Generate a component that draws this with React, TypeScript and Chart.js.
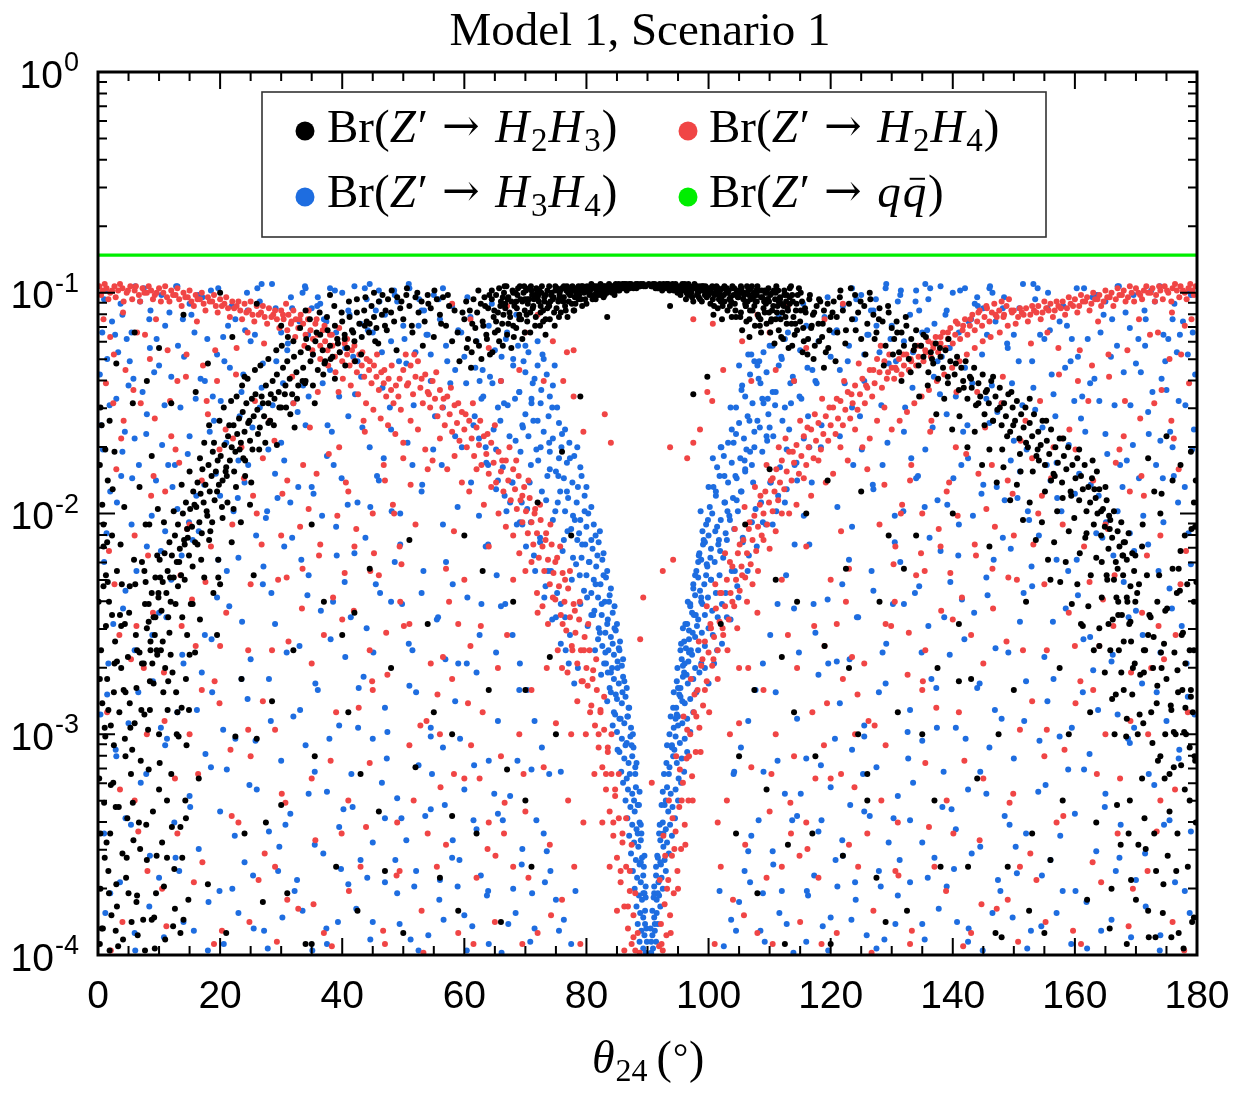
import { useEffect, useRef } from "react";
import { Chart, registerables } from "chart.js";
Chart.register(...registerables);

// Points are stored as flat pairs [t, d]:
//   t = theta_24 in tenths of a degree, d = -100 * log10(Br)  (depth below 1, in hundredths of a decade)

// ---- Br(Z' -> H2H3)  (black) ----
const H2H3_CAP = [600,112,603,104,606,121,609,108,612,127,615,103,618,116,621,109,624,124,627,105,630,113,633,102,636,119,639,107,642,128,645,103,648,111,650,118,
652,101,655,109,657,122,660,104,662,114,665,100,667,107,670,119,672,102,675,111,677,125,680,100,682,106,685,116,687,101,690,110,692,103,695,121,697,100,699,108,
701,99,703,113,706,103,708,118,710,99,712,107,715,101,717,111,719,99,722,104,724,115,726,100,729,108,731,102,733,119,736,99,738,105,740,112,743,100,745,103,747,109,749,99,
752,98,754,104,756,100,758,109,761,98,763,102,765,106,767,99,769,111,772,98,774,101,776,105,778,98,780,108,783,100,785,98,787,103,790,99,793,106,796,98,
801,97,804,100,807,98,810,103,813,97,816,99,819,101,822,97,825,98,828,102,831,97,835,99,838,97,842,100,845,98,849,97,
852,97,856,98,859,96,863,97,866,99,870,96,874,97,877,98,881,96,885,97,889,96,894,97,
906,97,909,96,913,98,917,97,920,96,924,99,928,97,931,96,935,98,939,97,943,99,947,97,
951,98,954,101,957,97,960,99,963,103,966,98,969,97,972,100,975,104,978,98,981,97,984,102,987,99,990,97,994,101,998,98,
1001,99,1003,105,1005,98,1008,110,1010,101,1012,98,1015,107,1017,103,1019,99,1022,112,1024,98,1026,104,1029,100,1031,108,1033,99,1036,102,1038,111,1040,98,1043,105,1046,100,
1051,100,1053,109,1055,117,1058,101,1060,105,1062,113,1065,99,1067,120,1069,103,1072,108,1074,100,1076,115,1079,104,1081,110,1083,99,1086,118,1088,102,1090,107,1093,100,1095,114,1097,103,1099,109,
1101,101,1103,112,1106,106,1108,123,1110,100,1112,109,1115,117,1117,102,1119,105,1122,121,1124,101,1126,111,1129,107,1131,125,1133,102,1136,114,1138,104,1141,119,1143,108,1146,101,
1150,113,1153,104,1156,122,1159,109,1162,128,1165,103,1168,116,1171,110,1174,124,1177,106,1180,114,1183,104,1186,120,1189,108,1192,127,1195,105,1198,117,1200,111];

const H2H3_CAP2 = [623,99,634,106,641,101,657,98,664,110,671,103,679,99,686,107,693,112,698,97,704,105,711,101,718,98,725,109,731,104,739,97,746,102,751,107,757,99,762,104,768,97,773,101,779,108,784,98,788,101,794,97,798,103,803,99,808,96,812,101,818,98,823,96,827,99,833,98,837,96,843,97,847,99,853,96,858,98,862,96,868,97,873,96,879,97,884,96,888,97,893,96,897,97,902,96,907,97,912,96,916,98,921,97,926,96,932,97,936,99,941,96,946,98,952,97,956,99,961,96,966,101,972,98,977,96,982,99,986,103,991,97,996,100,1002,98,1007,103,1013,97,1018,101,1023,106,1027,98,1034,103,1039,97,1044,108,1049,102,1054,98,1061,106,1066,101,1071,97,1077,104,1082,111,1087,99,1094,105,1098,98,1104,108,1109,103,1114,99,1121,109,1127,104,1133,98,1139,111,1144,105,1151,100,1158,107,1166,101,1173,109,1181,103,
592,131,604,125,611,134,619,122,628,130,637,121,646,127,655,117,663,124,672,114,681,120,690,112,699,118,708,109,716,115,725,106,733,112,589,118,597,109,613,114,631,115,649,108,667,105,685,104,703,103,721,101,739,106,755,111,
1208,131,1196,125,1189,134,1181,122,1172,130,1163,121,1154,127,1145,117,1137,124,1128,114,1119,120,1110,112,1101,118,1092,109,1084,115,1075,106,1067,112,1211,118,1203,109,1187,114,1169,115,1151,108,1133,105,1115,104,1097,103,1079,101,1061,106,1045,111,
645,99,652,113,659,106,666,97,674,109,680,115,688,98,695,104,702,110,709,97,714,103,723,99,729,113,736,107,742,101,748,115,755,103,760,98,766,108,771,104,776,99,782,105,787,97,791,103,796,100,800,105,806,99,811,97,815,103,820,100,826,97,830,101,836,98,841,97,846,101,851,99,855,97,861,98,865,96,871,98,876,97,882,98,887,97,
913,97,918,98,923,97,929,98,934,96,938,98,944,97,949,100,953,98,959,97,964,100,968,98,973,102,979,97,983,100,989,104,993,98,997,102,1004,100,1009,106,1014,99,1020,104,1025,101,1030,98,1035,106,1041,101,1047,99,1052,111,1057,103,1063,97,1068,108,1073,102,1078,99,1085,112,1091,104,1096,100,1102,113,1107,99,1113,106,1118,112,1124,99,1130,108,1137,101,1142,114,1148,98,1155,116,
663,102,669,97,677,104,684,100,691,97,699,103,706,98,713,106,720,102,727,97,733,101,741,104,749,97,756,101,763,97,770,100,777,97,781,102,789,99,792,97,799,98,805,101,809,98,817,97,824,101,829,97,834,100,840,98,848,96,854,99,
946,96,951,99,957,96,962,98,967,96,971,99,976,97,981,101,986,97,991,99,995,97,1000,101,1006,97,1011,100,1016,98,1021,102,1026,97,1032,100,1037,104,1042,98,1048,102,1053,97,1058,100,1064,104,1069,98,1075,101,1080,97,1086,102,1092,99,1099,104,1105,100,1111,97,1117,103,1123,106,1128,101,1135,97];

const H2H3_ARC_L = [80,252,83,241,86,258,88,236,91,247,94,229,96,262,99,238,101,221,104,244,106,231,109,218,112,236,114,226,117,213,119,240,
121,219,124,229,126,210,129,222,131,205,134,216,136,228,139,200,141,212,144,195,146,207,149,219,151,198,154,206,156,190,159,213,
161,197,163,186,166,204,168,191,171,180,173,195,176,187,178,199,181,178,183,190,186,183,188,172,191,194,193,181,196,176,198,187,
201,174,204,185,207,169,210,179,213,165,216,176,219,170,222,160,225,172,228,164,231,157,234,168,237,154,240,163,243,150,246,159,249,167,252,148,255,156,258,146,
261,153,265,161,268,147,272,156,275,142,279,150,282,158,286,140,289,148,293,137,296,145,300,152,303,134,307,142,310,131,314,139,318,146,321,129,325,136,328,142,332,127,336,134,340,140,344,125,348,131,
352,128,356,122,360,135,364,119,368,126,372,131,376,117,380,124,384,129,388,115,392,121,396,127,400,113,404,119,408,125,412,111,416,117,420,122,424,109,428,114,432,120,436,108,440,113,444,118,448,106,452,111,456,116,
460,104,465,110,470,115,475,103,480,109,485,113,490,102,495,107,500,112,505,101,510,106,515,118,520,102,525,109,530,104,535,113,540,101,545,107,550,120,555,103,560,110,565,102,570,115,575,106,580,122,
72,268,78,231,85,276,93,255,97,219,103,262,108,204,115,247,118,229,124,199,127,241,133,222,137,187,142,230,147,211,150,181,155,224,158,196,163,214,167,175,170,209,174,168,179,201,182,160,187,204,190,168,195,190,199,158,203,197,206,152,211,183,215,160,218,149,223,181,227,147,232,171,236,142,241,176,245,139,248,158,253,171,257,135,262,164,266,133,270,150,274,168,279,130,283,146,288,160,292,126,297,152,301,124,306,146,311,120,315,155,320,122,326,148,331,116,335,140,341,121,347,112,352,142,358,118,363,109,369,137,375,111,381,130,387,106,393,123,399,109,405,133,411,104,418,118,424,103,431,128,438,102,445,114,452,100,459,123,466,101,473,117,481,99,489,126,497,104,506,98,514,115,523,100,532,124,541,105,551,99,562,114,573,101,584,108,
52,286,64,262,77,241,89,268,102,229,117,254,131,233,142,214,155,241,169,221,184,208,197,229,209,181,222,198,238,175,251,186,264,171,279,159,293,169,308,152,322,161,339,141,355,150,371,132,388,139,404,121,421,131,437,115,454,122,471,108];

const H2H3_ARC_R = [1205,104,1210,111,1215,102,1220,108,1225,117,1230,105,1235,112,1240,101,1245,109,1250,121,1255,106,1260,114,1265,103,1270,110,1275,118,1280,107,1285,113,1290,124,1295,109,1300,116,
1304,121,1308,113,1312,127,1316,118,1320,124,1324,115,1328,130,1332,121,1336,126,1340,117,1344,133,1348,124,1352,129,1356,120,1360,136,1364,127,1368,132,1372,123,1376,139,1380,129,1384,134,1388,126,1392,141,1396,131,
1403,137,1407,129,1410,144,1414,134,1417,140,1421,131,1424,148,1428,138,1431,143,1435,134,1438,151,1442,141,1445,147,1449,137,1452,155,1456,144,1459,150,1463,140,1466,158,1470,147,1473,153,1477,143,1480,160,1484,150,1487,156,1491,146,1494,163,1498,152,
1502,158,1505,149,1509,166,1512,155,1516,161,1519,152,1523,170,1526,159,1530,165,1533,155,1537,174,1540,163,1544,169,1547,158,1551,178,1554,167,1558,173,1561,162,1565,182,1568,170,1572,177,1575,166,1579,186,1582,174,1586,180,1589,170,1593,190,1596,178,
1601,184,1604,175,1607,194,1610,183,1613,189,1616,178,1619,199,1622,188,1625,195,1628,184,1631,205,1634,193,1637,200,1640,189,1643,210,1646,198,1649,206,1652,194,1655,216,1658,203,1661,211,1664,199,1667,222,1670,208,1673,215,1676,204,1679,228,1682,213,1685,221,1688,209,1691,233,1694,218,1697,226,
1216,99,1224,123,1233,98,1241,117,1249,104,1257,128,1264,100,1272,121,1279,112,1287,133,1294,106,1302,128,1309,118,1316,140,1323,111,1331,136,1338,124,1345,147,1352,119,1359,142,1366,130,1373,155,1379,125,1386,148,1392,138,1399,162,1405,132,1411,156,1418,143,1424,170,1430,139,1436,163,1442,150,1448,178,1454,145,1460,171,1466,158,1472,186,1477,152,1483,179,1489,165,1494,194,1499,160,1505,187,1510,173,1515,203,1520,168,1526,195,1531,181,1536,212,1541,176,1546,204,1551,190,1556,221,1561,185,1566,213,1571,199,1576,231,1580,193,1585,222,1590,208,1595,241,1599,202,1604,232,1608,218,1613,251,1617,211,1622,242,1626,228,1631,262,1635,220,1640,252,1644,238,1649,272,1653,230,1658,262,1662,248,1667,282,1671,240,1676,272,1680,258,1685,293,1689,250,1694,282,1698,268,
1526,148,1539,171,1553,158,1567,183,1581,166,1594,192,1607,171,1619,209,1632,189,1644,222,1656,201,1668,238,1679,219,1691,249,1702,236,1713,262,1724,247,1735,278,1746,259,1757,287,1768,271,1779,299,1790,283,1797,312,1452,160,1466,138,1481,171,1496,145,1511,181,1393,121];

const H2H3_SCATTER = [5,262,12,301,20,345,8,388,15,275,25,322,30,368,3,395,18,240,35,290,40,354,10,331,22,382,28,258,45,310,50,372,7,286,14,349,33,396,38,270,48,338,55,385,60,295,2,320,17,362,26,305,42,280,58,348,65,391,70,312,75,268,80,357,13,228,23,210,36,246,52,233,62,255,72,222,85,289,90,335,95,372,100,300,105,349,110,393,115,276,120,318,125,361,130,290,135,342,140,384,145,305,150,264,6,160,16,185,27,172,43,197,57,150,68,188,78,205,88,174,98,198,4,370,11,356,19,398,31,378,46,365,63,376,77,398,92,383,108,369,123,387,138,356,1,240,9,215,21,296,29,333,44,250,54,318,67,340,83,316,97,264,113,330,128,281,143,330,148,375,
165,320,180,368,195,255,210,390,225,301,240,345,255,228,270,376,285,285,300,332,320,262,340,395,355,310,370,240,390,360,410,290,425,380,445,225,460,335,480,270,500,390,520,315,540,250,560,365,580,300,600,210,620,345,640,280,660,385,680,240,700,330,720,195,740,265,760,172,775,210,200,232,235,275,275,340,310,372,350,205,400,255,430,318,470,362,510,212,550,290,590,380,630,226,670,316,710,360,750,300,
60,118,100,125,140,110,180,132,220,120,260,105,300,115,340,108,380,101,80,140,160,145,200,100,240,138,120,150,30,132,
1020,250,1050,310,1080,372,1110,230,1140,290,1170,345,1200,395,1230,270,1260,330,1290,385,1320,225,1350,300,1380,360,1410,250,1440,320,1470,390,1500,280,1530,345,1560,230,1590,300,1620,375,1640,260,1060,205,1100,180,1130,350,1160,200,1190,260,1220,355,1250,190,1280,240,1310,290,1340,210,1370,330,1400,200,1430,275,1460,215,1490,360,1520,240,1550,390,1580,330,1610,250,1635,340,1075,280,1125,395,1175,310,1225,225,1275,365,1325,380,1375,270,1425,360,1475,300,1525,380,1575,270,1625,290,1045,345,1095,325,1145,240,1195,185,1245,300,1295,210,
1655,250,1665,300,1675,350,1685,395,1695,270,1705,232,1710,320,1715,262,1720,380,1725,290,1730,345,1735,240,1740,310,1745,368,1750,275,1755,335,1760,225,1765,300,1770,390,1775,255,1780,325,1785,360,1790,280,1795,240,1798,340,1660,370,1670,225,1680,280,1690,330,1700,375,1712,295,1722,246,1732,392,1742,270,1752,355,1762,315,1772,235,1782,300,1792,385,1704,350,1728,270,1748,300,1768,345,1788,262,1716,352,1738,228,1758,392,1776,280,1796,310,1686,240,
1720,175,1740,200,1760,185,1780,210,1795,195,1710,215,1750,165,1770,225,1790,172,1730,190,
998,138,975,146,790,147,937,106,834,111,
3,178,9,205,16,231,24,189,31,267,37,214,44,302,51,245,57,331,63,279,69,352,76,226,82,298,88,384,94,247,101,313,107,281,113,356,119,264,126,379,132,301,138,247,144,338,149,289,4,345,11,297,18,372,26,281,34,333,41,393,49,265,56,307,64,373,71,289,79,341,86,262,93,397,100,325,110,270,121,342,135,390,146,255,6,388,13,251,21,323,29,389,39,232,47,356,59,221,74,384,84,205,96,355,
1652,228,1661,284,1669,332,1677,246,1684,301,1692,366,1699,219,1707,273,1714,338,1721,392,1729,256,1736,312,1744,381,1751,243,1758,289,1766,362,1773,217,1781,268,1788,330,1795,383,1799,231,1657,388,1672,262,1688,345,1703,300,1718,228,1733,362,1747,320,1763,263,1778,397,1793,290,1680,213,1711,205,1742,191,1773,178,1797,206,
260,302,420,245,580,337,700,280,1120,265,1260,318,1410,276,1560,357,350,395,1480,392,
4,152,12,171,19,158,7,196,15,213,23,246,9,233,27,268,17,289,3,275,31,226,38,251,45,281,53,297,61,232,68,263,76,291,83,249,91,277,99,236,106,258,114,289,122,272,129,300,137,288,144,275,152,241,159,263,167,248,174,229,182,212,189,236,197,221,204,202,212,195,219,213,226,188,234,204,241,183,249,196,
1798,185,1791,207,1784,232,1777,254,1769,281,1762,299,1755,318,1748,244,1741,263,1734,286,1727,304,1720,255,1713,272,1706,291,1699,240,1692,258,1685,238,1678,219,1671,246,1664,230,1657,207,1650,188,1643,199,1636,181,1629,176,1795,262,1788,306,1781,288,1774,314,1767,236];

// ---- Br(Z' -> H2H4)  (red) ----
const H2H4_BAND_L = [2,97,8,99,14,98,20,100,27,97,33,99,40,98,47,100,53,97,60,99,67,101,73,98,80,100,87,99,93,101,100,98,107,100,113,102,120,99,127,101,133,103,140,100,147,102,153,104,160,101,167,103,173,105,180,102,187,104,193,106,200,103,207,105,213,107,220,104,227,106,233,108,240,105,247,108,253,110,260,106,267,109,273,111,280,107,287,110,293,112,300,108,
304,112,308,105,312,110,316,114,320,108,324,112,328,116,332,110,336,114,340,119,344,112,348,117,352,121,356,114,360,119,364,124,368,117,372,122,376,126,380,119,384,124,388,129,392,121,396,127,400,131,404,123,408,128,412,133,416,126,420,131,424,136,428,128,432,133,436,138,440,130,444,135,448,141,452,133,456,138,460,144,464,136,468,141,472,147,476,139,480,144,484,150,488,142,492,147,496,153,
500,135,504,128,508,141,512,133,516,146,520,138,524,131,528,143,532,150,536,137,540,145,544,152,548,140,552,148,556,156,560,144,564,152,568,160,572,147,576,155,580,163,584,151,588,159,592,167,596,154,600,162,604,170,608,158,612,166,616,174,620,161,624,169,628,178,632,165,636,173,640,182,644,168,648,177,652,186,656,172,660,181,664,190,668,176,672,185,676,194,680,180,
683,189,686,198,689,183,692,194,695,204,698,188,701,199,704,209,707,193,710,204,713,214,716,198,719,209,722,220,725,203,728,215,731,226,734,209,737,221,740,232,743,214,746,227,749,239,752,220,755,233,758,246,761,227,764,240,767,253,770,234,773,247,776,260,779,241,782,254,785,268,788,248,791,262,794,276,797,256,800,270,
802,278,805,262,808,287,811,271,814,296,817,280,820,306,823,289,826,315,829,298,832,325,835,308,838,335,841,318,844,346,847,328,850,356,853,338,856,367,859,349,862,378,865,360,868,388,871,371,874,395,877,382,880,398,884,390,887,399,
5,101,11,96,17,103,23,99,29,102,36,96,42,104,49,99,56,103,62,97,69,104,76,100,83,97,90,103,96,100,103,104,110,97,117,104,123,101,130,98,137,106,143,102,150,99,157,106,163,103,170,100,176,108,183,104,190,101,196,109,203,106,210,102,216,111,223,107,230,104,236,112,243,109,250,104,256,113,263,110,270,106,277,114,284,111,290,108,297,116,303,110,310,117,317,113,323,120,330,112,
338,124,345,108,351,126,358,112,364,130,371,115,377,133,383,119,389,136,395,116,401,139,408,121,414,142,420,124,426,146,433,127,439,150,445,131,451,153,457,128,463,157,469,135,475,160,481,133,487,164,494,139,500,168,506,142,512,158,518,128,524,162,530,139,536,171,542,146,548,176,554,136,560,166,566,148,572,180,578,143,584,174,590,150,596,186,602,155,608,190,614,150,620,180,626,158,632,196,638,164,644,188,650,160,656,200,662,176,668,206,674,170,
680,210,685,176,690,218,695,192,700,226,705,185,710,222,715,200,719,236,724,196,728,242,733,212,737,250,741,205,745,238,749,222,753,262,757,215,761,250,765,230,769,272,773,226,777,262,781,244,785,285,789,240,792,276,796,262,799,300,803,250,806,290,810,275,813,318,816,266,820,300,823,290,826,340,829,283,832,318,835,306,838,360,841,300,844,340,847,325,850,380,853,318,856,362,859,345,862,398,865,338,868,378,871,362,874,350,877,392,880,372];

const H2H4_BAND_R = [1798,97,1792,99,1786,98,1780,100,1773,97,1767,99,1760,98,1753,100,1747,97,1740,99,1733,101,1727,98,1720,100,1713,99,1707,101,1700,98,1693,100,1687,102,1680,99,1673,101,1667,103,1660,100,1653,102,1647,104,1640,101,1633,103,1627,105,1620,102,1613,104,1607,106,1600,103,1593,105,1587,107,1580,104,1573,106,1567,108,1560,105,1553,107,1547,109,1540,106,1533,108,1527,110,1520,107,1513,109,1507,111,1500,108,
1496,108,1492,103,1488,106,1484,110,1480,104,1476,108,1472,111,1468,105,1464,109,1460,113,1456,107,1452,111,1448,115,1444,108,1440,113,1436,117,1432,110,1428,115,1424,119,1420,112,1416,117,1412,121,1408,114,1404,119,1400,123,1396,116,1392,121,1388,125,1384,118,1380,123,1376,127,1372,120,1368,125,1364,129,1360,122,1356,127,1352,131,1348,124,1344,129,1340,133,1336,126,1332,131,1328,135,1324,128,1320,133,1316,137,1312,130,1308,135,1304,139,
1300,134,1296,128,1292,139,1288,131,1284,143,1280,136,1276,130,1272,141,1268,147,1264,135,1260,143,1256,150,1252,139,1248,146,1244,153,1240,142,1236,150,1232,157,1228,145,1224,153,1220,160,1216,149,1212,157,1208,164,1204,152,1200,160,1196,167,1192,156,1188,164,1184,171,1180,159,1176,167,1172,175,1168,162,1164,170,1160,178,1156,165,1152,174,1148,182,1144,169,1140,177,1136,185,1132,172,1128,181,1124,189,1120,176,
1117,186,1114,194,1111,180,1108,190,1105,199,1102,185,1099,195,1096,205,1093,190,1090,200,1087,210,1084,196,1081,206,1078,217,1075,201,1072,212,1069,223,1066,207,1063,218,1060,229,1057,212,1054,224,1051,235,1048,218,1045,230,1042,242,1039,224,1036,236,1033,248,1030,230,1027,242,1024,255,1021,236,1018,249,1015,262,1012,243,1009,256,1006,269,1003,250,1000,263,
997,276,994,258,991,287,988,269,985,297,982,280,979,308,976,290,973,319,970,300,967,330,964,311,961,341,958,322,955,352,952,333,949,362,946,344,943,372,940,355,937,382,934,366,931,391,928,377,925,398,922,386,919,396,
1795,101,1789,96,1783,103,1777,99,1771,102,1764,96,1758,104,1751,99,1744,103,1738,97,1731,104,1724,100,1717,97,1710,103,1704,100,1697,104,1690,97,1683,104,1677,101,1670,98,1663,106,1657,102,1650,99,1643,106,1637,103,1630,100,1624,108,1617,104,1610,101,1604,109,1597,106,1590,102,1584,110,1577,107,1570,104,1564,111,1557,108,1550,104,1544,112,1537,109,1530,106,1523,113,1516,110,1510,107,1503,114,1497,109,1490,115,1483,111,1477,118,1470,110,
1462,120,1455,106,1449,122,1442,109,1436,125,1429,112,1423,128,1417,115,1411,131,1405,113,1399,134,1392,118,1386,137,1380,120,1374,140,1367,123,1361,144,1355,126,1349,147,1343,124,1337,150,1331,130,1325,154,1319,128,1313,158,1306,134,1300,162,1294,136,1288,152,1282,124,1276,158,1270,135,1264,166,1258,142,1252,170,1246,132,1240,162,1234,146,1228,176,1222,140,1216,170,1210,148,1204,182,1198,152,1192,186,1186,148,1180,176,1174,155,1168,192,1162,161,1156,184,1150,158,1144,196,1138,172,1132,200,1126,166,
1120,200,1115,170,1110,208,1105,184,1100,216,1095,178,1090,212,1085,192,1081,226,1076,188,1072,232,1067,204,1063,240,1059,197,1055,228,1051,214,1047,252,1043,207,1039,240,1035,222,1031,262,1027,218,1023,252,1019,236,1015,275,1011,232,1008,266,1004,252,1001,290,997,242,994,280,990,266,987,308,984,258,980,292,977,282,974,330,971,275,968,310,965,298,962,350,959,292,956,330,953,316,950,370,947,310,944,352,941,338,938,390,935,330,932,370,929,355,926,346,923,395,920,366];

const H2H4_SCATTER = [20,120,45,135,70,150,95,112,120,165,145,128,170,185,195,140,220,205,245,118,270,175,295,230,320,150,345,198,370,255,395,170,420,215,445,262,470,185,495,240,520,205,545,268,570,225,590,250,30,180,60,210,90,245,110,190,135,228,160,260,185,215,210,245,235,170,260,200,285,262,310,185,335,225,360,145,385,238,410,190,435,158,460,228,485,200,510,250,540,180,565,265,35,255,75,270,150,205,200,260,250,232,300,210,350,268,400,248,450,200,500,175,25,150,85,130,130,140,180,155,
15,290,60,330,105,370,150,300,190,395,230,340,270,285,310,375,350,320,390,290,430,360,470,395,510,305,540,345,40,385,130,345,170,280,250,310,290,360,370,390,410,330,450,280,490,340,530,380,80,300,
560,300,570,350,580,275,590,390,600,320,610,260,620,365,630,290,640,340,650,385,660,310,670,255,680,360,690,300,700,335,710,280,720,390,730,315,740,350,750,295,760,375,770,330,780,360,790,395,600,230,640,215,680,230,720,245,760,270,555,360,575,240,615,395,655,270,695,395,735,270,775,300,795,340,625,320,665,345,705,365,
1780,115,1755,130,1730,150,1705,112,1680,165,1655,128,1630,185,1605,140,1580,205,1555,118,1530,175,1505,230,1480,150,1455,198,1430,255,1405,170,1380,215,1355,262,1330,185,1305,240,1280,205,1255,268,1230,225,1210,250,1770,180,1740,210,1710,245,1690,190,1665,228,1640,260,1615,215,1590,245,1565,170,1540,200,1515,262,1490,185,1465,225,1440,145,1415,238,1390,190,1365,158,1340,228,1315,200,1290,250,1260,180,1235,265,1765,255,1725,270,1650,205,1600,260,1550,232,1500,210,1450,268,1400,248,1350,200,
1785,290,1740,330,1695,370,1650,300,1610,395,1570,340,1530,285,1490,375,1450,320,1410,290,1370,360,1330,395,1290,305,1260,345,1760,385,1670,345,1630,280,1550,310,1510,360,1430,390,1390,330,1350,280,1310,340,1270,380,1720,300,
1240,300,1230,350,1220,275,1210,390,1200,320,1190,260,1180,365,1170,290,1160,340,1150,385,1140,310,1130,255,1120,360,1110,300,1100,335,1090,280,1080,390,1070,315,1060,350,1050,295,1040,375,1030,330,1020,360,1010,395,1200,230,1160,215,1120,230,1080,245,1050,270,1245,360,1225,240,1185,395,1145,270,1105,395,1065,270,1035,300,1015,340,1175,320,1135,345,1095,365,
768,127,779,126,762,140,779,147,830,155,840,168,795,163,975,112,1007,114,1024,135,998,145,1006,149,975,168,937,170,965,175,986,162,925,226,942,221,893,238,888,257,907,322,
670,106,700,118,720,110,640,125,610,112,660,140,745,122,580,105,690,135,730,140,1130,106,1100,118,1080,110,1160,125,1190,112,1140,140,1055,122,1220,105,1110,135,1070,140,
42,158,87,192,133,177,176,231,221,166,268,214,312,258,358,182,404,227,449,276,494,215,538,294,583,208,627,251,18,217,63,251,108,272,154,239,199,286,246,262,290,298,334,243,381,312,427,288,472,254,517,330,561,324,606,286,651,355,697,318,742,382,36,325,81,362,126,320,171,358,217,307,263,366,307,331,353,377,399,345,445,313,489,364,533,399,21,398,66,344,112,387,157,367,203,389,248,385,293,394,
1758,158,1713,192,1667,177,1624,231,1579,166,1532,214,1488,258,1442,182,1396,227,1351,276,1306,215,1262,294,1217,208,1173,251,1782,217,1737,251,1692,272,1646,239,1601,286,1554,262,1510,298,1466,243,1419,312,1373,288,1328,254,1283,330,1239,324,1194,286,1149,355,1103,318,1058,382,1764,325,1719,362,1674,320,1629,358,1583,307,1537,366,1493,331,1447,377,1401,345,1355,313,1311,364,1267,399,1779,398,1734,344,1688,387,1643,367,1597,389,1552,385,1507,394,
13,141,38,166,64,118,91,183,118,149,146,207,172,133,199,171,227,125,254,192,281,158,309,229,336,178,364,214,392,201,419,244,446,226,474,273,501,251,528,296,556,282,583,318,611,305,638,352,666,331,27,232,54,266,82,219,109,294,137,251,164,318,191,276,219,337,246,298,273,354,301,327,328,379,356,348,383,396,411,371,439,342,467,389,494,362,
1787,141,1762,166,1736,118,1709,183,1682,149,1654,207,1628,133,1601,171,1573,125,1546,192,1519,158,1491,229,1464,178,1436,214,1408,201,1381,244,1354,226,1326,273,1299,251,1272,296,1244,282,1217,318,1189,305,1162,352,1134,331,1773,232,1746,266,1718,219,1691,294,1663,251,1636,318,1609,276,1581,337,1554,298,1527,354,1499,327,1472,379,1444,348,1417,396,1389,371,1361,342,1333,389,1306,362,
9,112,26,128,41,109,58,144,77,119,93,157,114,126,127,171,144,138,162,113,178,149,192,126,209,162,226,137,239,184,257,149,272,123,289,167,302,191,318,138,331,206,347,161,362,219,378,173,394,145,406,186,423,207,437,163,452,218,468,178,483,196,497,223,512,187,
1791,112,1774,128,1759,109,1742,144,1723,119,1707,157,1686,126,1673,171,1656,138,1638,113,1622,149,1608,126,1591,162,1574,137,1561,184,1543,149,1528,123,1511,167,1498,191,1482,138,1469,206,1453,161,1438,219,1422,173,1406,145,1394,186,1377,207,1363,163,1348,218,1332,178,1317,196,1303,223,1288,187];

// ---- Br(Z' -> H3H4)  (blue) ----
const H3H4_BAND_L = [668,121,688,124,705,127,720,122,730,130,680,133,700,136,715,139,735,137,745,142,690,145,710,148,725,150,740,147,752,152,700,155,720,158,738,156,755,159,765,162,712,141,728,128,748,133,695,160,
730,163,745,166,760,164,772,168,785,170,740,172,755,175,768,177,780,174,790,179,750,181,763,184,777,186,792,183,800,188,757,190,770,193,784,195,797,192,808,197,765,199,778,201,790,203,803,200,812,205,775,207,788,209,800,206,815,210,822,208,
785,212,798,214,810,216,820,213,828,218,792,220,805,222,816,224,826,221,834,226,800,228,812,230,823,232,832,229,840,234,808,236,819,238,830,240,838,237,846,242,813,244,825,246,835,248,843,245,850,250,820,252,831,254,840,256,848,253,855,258,826,260,836,262,845,264,853,261,860,266,832,268,842,270,851,267,858,269,
835,272,845,275,853,277,860,274,866,279,840,281,850,284,858,286,864,283,870,288,845,290,854,293,862,295,868,292,873,297,850,299,858,302,866,304,872,301,877,306,854,308,862,311,869,313,875,310,880,315,857,317,866,320,
860,322,868,325,875,327,881,324,864,330,872,333,879,335,884,332,867,338,875,341,882,343,887,340,870,346,878,349,885,351,889,348,873,354,881,357,887,359,891,356,876,362,883,365,889,367,893,364,879,370,886,373,891,375,895,372,882,378,888,381,893,383,896,380,884,386,890,389,895,391,898,388,887,394,893,397,897,399,
642,138,655,152,661,129,674,165,683,148,692,172,697,131,707,186,713,158,721,176,726,144,734,194,739,168,744,152,749,199,754,183,759,170,763,212,768,190,773,175,778,220,781,203,786,188,789,228,793,214,797,199,801,238,804,222,808,212,811,246,815,232,818,219,822,254,825,241,828,228,831,263,834,250,837,240,840,272,843,259,846,252,848,282,851,270,854,262,856,293,859,281,862,276,864,305,867,292,869,288,871,318,874,305,876,300,878,330,880,318,882,313,884,345,886,332,887,326,889,358,890,345,889,341,893,372,894,360,895,355,896,386,897,374,897,369,899,394,
618,134,631,147,646,141,659,158,671,151,684,167,696,161,709,178,718,171,727,190,736,183,745,203,753,195,761,217,769,208,776,230,783,223,790,241,796,235,802,251,808,246,814,262,819,257,824,273,829,268,834,285,838,279,843,296,847,291,851,307,624,166,639,178,652,171,666,192,679,186,691,204,703,198,714,219,724,211,733,233,742,226,750,247,758,241,766,262,773,255,780,277,786,270];

const H3H4_BAND_R = [1125,121,1105,124,1090,127,1075,131,1065,128,1115,133,1095,136,1082,139,1068,137,1055,142,1105,145,1088,148,1072,150,1060,147,1045,152,1098,155,1080,158,1064,156,1050,159,1038,162,1085,141,1070,128,1050,133,1100,161,
1075,163,1058,166,1045,164,1032,168,1020,170,1068,172,1052,175,1038,177,1025,174,1014,179,1060,181,1046,184,1032,186,1018,183,1008,188,1054,190,1040,193,1026,195,1012,192,1002,197,1048,199,1034,201,1020,203,1006,200,996,205,1042,207,1028,209,1014,206,1000,210,990,208,
1030,212,1016,214,1004,216,994,213,985,218,1024,220,1010,222,998,224,988,221,980,226,1018,228,1004,230,993,232,983,229,975,234,1012,236,999,238,988,240,978,237,970,242,1006,244,994,246,983,248,973,245,965,250,1000,252,989,254,978,256,968,253,960,258,994,260,983,262,973,264,963,261,956,266,988,268,978,270,967,267,958,269,
985,272,975,275,966,277,958,274,950,279,980,281,970,284,961,286,954,283,947,288,975,290,965,293,957,295,950,292,943,297,970,299,961,302,953,304,946,301,940,306,965,308,956,311,948,313,942,310,936,315,960,317,951,320,
955,322,946,325,938,327,932,324,950,330,941,333,934,335,928,332,945,338,937,341,930,343,925,340,940,346,932,349,926,351,921,348,935,354,928,357,922,359,917,356,930,362,923,365,918,367,914,364,925,370,919,373,915,375,911,372,921,378,915,381,911,383,908,380,917,386,912,389,908,391,905,388,914,394,909,397,906,399,
1138,138,1125,152,1119,129,1106,165,1097,148,1088,172,1083,131,1073,186,1067,158,1059,176,1054,144,1046,194,1041,168,1036,152,1031,199,1026,183,1021,170,1017,212,1012,190,1007,175,1003,220,999,203,1000,188,996,228,991,214,987,199,988,238,983,222,992,212,979,246,975,232,984,219,974,254,970,241,978,228,968,263,962,250,966,240,960,272,955,259,958,252,952,282,949,270,954,262,946,293,943,281,948,276,940,305,938,292,942,288,935,318,932,305,936,300,930,330,927,318,931,313,926,345,923,332,925,326,921,358,919,345,920,341,917,372,914,360,916,355,912,386,910,374,911,369,906,394,
1162,134,1149,147,1134,141,1121,158,1109,151,1096,167,1084,161,1071,178,1062,171,1053,190,1044,183,1035,203,1027,195,1019,217,1011,208,1004,230,997,223,990,241,986,235,981,251,976,246,971,262,968,257,964,273,961,268,957,285,954,279,950,296,948,291,944,307,1156,166,1141,178,1128,171,1114,192,1101,186,1089,204,1077,198,1066,219,1056,211,1047,233,1038,226,1030,247,1022,241,1014,262,1007,255,1000,277,994,270];

const H3H4_CLUSTER = [400,100,410,108,420,97,430,114,440,103,450,118,460,99,470,110,480,122,490,104,500,115,510,98,520,127,530,108,540,119,550,101,560,112,570,124,580,106,590,117,600,129,610,111,620,122,630,135,640,115,650,126,660,140,670,118,680,130,690,145,700,124,710,150,720,133,405,125,425,131,445,96,465,127,485,99,505,132,525,115,545,128,565,98,585,135,605,102,625,140,645,105,665,150,685,110,705,165,725,170,740,180,615,160,635,170,655,185,675,195,695,205,545,140,565,152,585,165,360,102,370,112,380,98,390,118,350,107,340,98,330,113,
1400,100,1390,108,1380,97,1370,114,1360,103,1350,118,1340,99,1330,110,1320,122,1310,104,1300,115,1290,98,1280,127,1270,108,1260,119,1250,101,1240,112,1230,124,1220,106,1210,117,1200,129,1190,111,1180,122,1170,135,1160,115,1150,126,1140,140,1130,118,1120,130,1110,145,1100,124,1090,150,1080,133,1395,125,1375,131,1355,96,1335,127,1315,99,1295,132,1275,115,1255,128,1235,98,1215,135,1195,102,1175,140,1155,105,1135,150,1115,110,1095,165,1075,170,1060,180,1185,160,1165,170,1145,185,1125,195,1105,205,1255,140,1235,152,1215,165,1440,102,1430,112,1420,98,1410,118,1450,107,1460,98,1470,113,
603,141,617,156,628,148,636,177,648,162,652,189,663,179,669,199,678,186,686,205,694,195,701,215,709,204,716,226,724,213,731,238,737,226,744,248,752,236,758,259,765,247,771,268,596,170,611,186,624,201,639,214,653,228,667,241,679,255,691,268,703,280,715,294,727,306,739,318,
1177,141,1163,156,1152,148,1144,177,1132,162,1128,189,1117,179,1111,199,1102,186,1094,205,1086,195,1079,215,1071,204,1064,226,1056,213,1049,238,1043,226,1036,248,1028,236,1022,259,1015,247,1009,268,1184,170,1169,186,1156,201,1141,214,1127,228,1113,241,1101,255,1089,268,1077,280,1065,294,1053,306,1041,318,
12,99,37,105,61,97,86,108,104,101,128,97,153,110,171,102,197,98,219,106,244,100,268,96,291,107,316,102,339,97,364,105,388,99,412,110,437,98,461,104,486,101,509,96,534,108,558,103,
1788,99,1763,105,1739,97,1714,108,1696,101,1672,97,1647,110,1629,102,1603,98,1581,106,1556,100,1532,96,1509,107,1484,102,1461,97,1436,105,1412,99,1388,110,1363,98,1339,104,1314,101,1291,96,1266,108,1242,103];

const H3H4_SCATTER = [10,103,40,110,75,98,110,115,150,105,185,99,225,112,265,104,300,118,335,100,55,118,130,97,205,120,245,108,285,96,
15,130,50,142,85,125,120,138,160,148,195,128,235,145,270,132,310,126,345,147,380,135,30,148,100,133,175,140,250,122,320,150,
5,160,40,172,80,155,115,178,150,165,190,158,230,176,265,152,300,168,340,160,375,174,410,156,445,170,480,162,515,178,60,166,135,152,210,168,
20,190,55,205,95,185,130,198,165,208,200,192,240,186,275,202,315,195,350,188,390,206,425,195,460,185,495,200,530,190,565,205,110,208,290,182,
10,222,45,235,80,215,120,230,155,212,195,238,230,220,270,232,305,215,345,228,385,240,420,218,455,232,495,214,530,236,570,222,605,238,635,215,
25,250,60,262,100,245,140,268,175,255,215,242,250,266,290,250,330,260,365,244,405,265,440,252,480,240,515,262,555,248,590,268,625,255,660,242,
15,282,50,295,90,276,130,290,170,272,205,298,245,284,280,275,320,292,360,280,395,296,435,274,470,288,510,278,545,297,585,285,620,272,655,294,690,280,
30,310,70,322,110,305,150,328,185,315,225,302,260,325,300,312,340,305,375,326,415,318,450,302,490,329,525,314,565,306,600,325,640,312,675,328,710,316,
10,345,45,338,85,355,125,340,165,352,200,335,240,358,280,344,315,336,355,350,395,342,430,357,470,338,505,348,545,334,580,356,620,343,655,336,695,352,730,345,
20,372,60,390,100,365,140,385,180,398,220,370,255,388,295,362,335,380,375,395,410,368,450,385,490,372,525,398,560,366,600,382,640,395,680,370,715,388,750,375,775,395,
1790,101,1760,112,1725,99,1690,116,1650,104,1615,98,1575,113,1535,103,1500,119,1465,100,1745,119,1670,97,1595,121,1555,107,1515,96,
1785,128,1750,144,1715,124,1680,136,1640,149,1605,129,1565,146,1530,131,1490,125,1455,148,1420,134,1770,149,1700,132,1625,141,1550,121,1480,150,
1795,162,1760,170,1720,154,1685,176,1650,164,1610,157,1570,177,1535,153,1500,167,1460,159,1425,175,1390,155,1355,171,1320,163,1285,178,1740,167,1665,151,1590,169,
1780,188,1745,204,1705,184,1670,199,1635,209,1600,191,1560,185,1525,203,1485,194,1450,187,1410,205,1375,194,1340,184,1305,201,1270,189,1235,206,1690,209,1510,181,
1790,223,1755,234,1720,214,1680,231,1645,211,1605,237,1570,221,1530,233,1495,216,1455,229,1415,239,1380,217,1345,233,1305,213,1270,235,1230,221,1195,239,1165,214,
1775,251,1740,263,1700,244,1660,267,1625,256,1585,243,1550,265,1510,249,1470,261,1435,245,1395,264,1360,251,1320,241,1285,263,1245,247,1210,267,1175,254,1140,243,
1785,283,1750,294,1710,277,1670,291,1630,271,1595,297,1555,285,1520,276,1480,293,1440,279,1405,297,1365,275,1330,289,1290,277,1255,296,1215,286,1180,273,1145,293,1110,281,
1770,311,1730,323,1690,304,1650,327,1615,316,1575,301,1540,326,1500,311,1460,306,1425,325,1385,317,1350,303,1310,328,1275,315,1235,307,1200,324,1160,311,1125,327,1090,317,
1790,344,1755,339,1715,354,1675,341,1635,353,1600,336,1560,357,1520,345,1485,337,1445,351,1405,343,1370,356,1330,339,1295,349,1255,335,1220,355,1180,344,1145,337,1105,353,1070,346,
1780,371,1740,391,1700,366,1660,384,1620,397,1580,371,1545,387,1505,363,1465,381,1425,394,1390,369,1350,386,1310,373,1275,397,1240,367,1200,383,1160,394,1120,371,1085,389,1050,376,1025,396,
7,118,33,127,58,139,84,112,109,151,131,124,158,118,183,163,207,131,232,156,257,119,279,171,303,141,328,188,352,128,376,160,399,184,421,146,446,197,468,175,
14,209,38,183,63,226,88,201,112,247,137,219,161,192,186,257,211,226,236,249,259,210,284,236,309,263,333,221,356,277,381,257,404,231,427,279,451,263,474,299,498,241,521,281,547,318,569,266,593,302,615,339,
4,291,29,307,54,341,79,318,103,297,127,356,151,333,176,309,199,371,224,346,248,323,272,389,297,351,322,371,345,327,369,354,393,385,417,333,441,365,465,322,487,357,512,393,536,337,559,375,581,348,604,398,627,364,649,327,672,386,694,359,718,339,741,362,763,384,
1793,118,1767,127,1742,139,1716,112,1691,151,1669,124,1642,118,1617,163,1593,131,1568,156,1543,119,1521,171,1497,141,1472,188,1448,128,1424,160,1401,184,1379,146,1354,197,1332,175,
1786,209,1762,183,1737,226,1712,201,1688,247,1663,219,1639,192,1614,257,1589,226,1564,249,1541,210,1516,236,1491,263,1467,221,1444,277,1419,257,1396,231,1373,279,1349,263,1326,299,1302,241,1279,281,1253,318,1231,266,1207,302,1185,339,
1796,291,1771,307,1746,341,1721,318,1697,297,1673,356,1649,333,1624,309,1601,371,1576,346,1552,323,1528,389,1503,351,1478,371,1455,327,1431,354,1407,385,1383,333,1359,365,1335,322,1313,357,1288,393,1264,337,1241,375,1219,348,1196,398,1173,364,1151,327,1128,386,1106,359,1082,339,1059,362,1037,384,
23,113,47,121,69,104,92,136,117,109,141,129,164,101,188,147,213,115,238,137,261,98,286,151,311,123,336,142,359,106,383,163,407,125,431,138,455,108,478,152,502,121,526,103,549,171,572,131,595,118,
8,171,31,195,56,184,79,164,103,217,126,178,149,204,174,187,197,221,222,199,246,178,271,224,294,193,318,211,343,237,367,201,391,219,414,247,438,211,462,236,486,222,509,259,533,226,557,247,581,232,604,268,628,241,652,263,
17,268,41,243,66,281,89,255,113,302,138,264,162,289,187,281,211,316,235,275,258,303,283,294,307,341,331,289,355,317,379,302,402,334,426,297,450,349,473,311,497,338,521,362,545,301,568,332,592,357,616,314,639,371,663,339,687,312,711,372,735,353,758,317,782,371,
12,381,36,367,61,398,84,378,108,392,133,362,157,389,181,376,206,395,230,381,254,364,278,397,302,383,326,366,351,398,374,388,398,361,423,379,446,393,470,367,494,386,518,369,541,391,566,384,589,369,613,387,637,373,661,399,684,381,708,394,732,367,755,389,
1777,113,1753,121,1731,104,1708,136,1683,109,1659,129,1636,101,1612,147,1587,115,1562,137,1539,98,1514,151,1489,123,1464,142,1441,106,1417,163,1393,125,1369,138,1345,108,1322,152,1298,121,1274,103,1251,171,1228,131,1205,118,
1792,171,1769,195,1744,184,1721,164,1697,217,1674,178,1651,204,1626,187,1603,221,1578,199,1554,178,1529,224,1506,193,1482,211,1457,237,1433,201,1409,219,1386,247,1362,211,1338,236,1314,222,1291,259,1267,226,1243,247,1219,232,1196,268,1172,241,1148,263,
1783,268,1759,243,1734,281,1711,255,1687,302,1662,264,1638,289,1613,281,1589,316,1565,275,1542,303,1517,294,1493,341,1469,289,1445,317,1421,302,1398,334,1374,297,1350,349,1327,311,1303,338,1279,362,1255,301,1232,332,1208,357,1184,314,1161,371,1137,339,1113,312,1089,372,1065,353,1042,317,1018,371,
1788,381,1764,367,1739,398,1716,378,1692,392,1667,362,1643,389,1619,376,1594,395,1570,381,1546,364,1522,397,1498,383,1474,366,1449,398,1426,388,1402,361,1377,379,1354,393,1330,367,1306,386,1282,369,1259,391,1234,384,1211,369,1187,387,1163,373,1139,399,1116,381,1092,394,1068,367,1045,389,
3,137,19,151,28,119,44,163,52,131,67,178,73,145,96,121,105,169,122,188,139,112,147,173,168,139,179,121,193,182,201,149,216,134,229,193,241,117,253,161,268,143,277,199,292,131,305,176,318,107,327,154,344,119,353,191,368,141,374,113,386,178,395,147,409,196,418,129,433,161,442,117,457,183,466,143,481,199,493,131,507,168,517,151,531,187,538,119,552,156,563,178,577,141,589,197,
1797,137,1781,151,1772,119,1756,163,1748,131,1733,178,1727,145,1704,121,1695,169,1678,188,1661,112,1653,173,1632,139,1621,121,1607,182,1599,149,1584,134,1571,193,1559,117,1547,161,1532,143,1523,199,1508,131,1495,176,1482,107,1473,154,1456,119,1447,191,1432,141,1426,113,1414,178,1405,147,1391,196,1382,129,1367,161,1358,117,1343,183,1334,143,1319,199,1307,131,1293,168,1283,151,1269,187,1262,119,1248,156,1237,178,1223,141,1211,197];

// ---- Br(Z' -> q qbar)  (green, constant) ----
const QQ_THETA = [0, 180];
const QQ_BR = [0.148, 0.148];

// ---- axes ----
const X_MIN = 0, X_MAX = 180;
const X_TICK_LABELS = [0, 20, 40, 60, 80, 100, 120, 140, 160, 180];
const Y_TICK_EXPONENTS = [0, -1, -2, -3, -4];

const COLORS = { h23: "#000000", h24: "#f04545", h34: "#1e6de0", qq: "#00ee00" };

function toXY(...parts: number[][]) {
  const out: { x: number; y: number }[] = [];
  for (const flat of parts) {
    for (let i = 0; i + 1 < flat.length; i += 2) {
      out.push({ x: flat[i] / 10, y: Math.pow(10, -flat[i + 1] / 100) });
    }
  }
  return out;
}

type Seg = { t: string; k: "r" | "i" | "s" | "bar" | "a" };
const ARROW: Seg = { t: "→", k: "a" };
const LEGEND_ITEMS: { color: string; segs: Seg[] }[] = [
  { color: COLORS.h23, segs: [{ t: "Br(", k: "r" }, { t: "Z", k: "i" }, { t: "′", k: "r" }, ARROW, { t: "H", k: "i" }, { t: "2", k: "s" }, { t: "H", k: "i" }, { t: "3", k: "s" }, { t: ")", k: "r" }] },
  { color: COLORS.h24, segs: [{ t: "Br(", k: "r" }, { t: "Z", k: "i" }, { t: "′", k: "r" }, ARROW, { t: "H", k: "i" }, { t: "2", k: "s" }, { t: "H", k: "i" }, { t: "4", k: "s" }, { t: ")", k: "r" }] },
  { color: COLORS.h34, segs: [{ t: "Br(", k: "r" }, { t: "Z", k: "i" }, { t: "′", k: "r" }, ARROW, { t: "H", k: "i" }, { t: "3", k: "s" }, { t: "H", k: "i" }, { t: "4", k: "s" }, { t: ")", k: "r" }] },
  { color: COLORS.qq, segs: [{ t: "Br(", k: "r" }, { t: "Z", k: "i" }, { t: "′", k: "r" }, ARROW, { t: "q", k: "i" }, { t: "q", k: "bar" }, { t: ")", k: "r" }] },
];

const SERIF = '"Liberation Serif", "Times New Roman", serif';
const SANS = '"Liberation Sans", Arial, sans-serif';

function drawSegs(ctx: CanvasRenderingContext2D, segs: Seg[], x0: number, y: number, size: number) {
  let x = x0;
  ctx.textAlign = "left";
  ctx.textBaseline = "alphabetic";
  for (const s of segs) {
    if (s.k === "r") {
      ctx.font = `${size}px ${SERIF}`;
      ctx.fillText(s.t, x, y);
      x += ctx.measureText(s.t).width;
    } else if (s.k === "a") {
      x += size * 0.3;
      ctx.font = `${Math.round(size * 0.95)}px "DejaVu Serif", "DejaVu Sans", serif`;
      ctx.fillText(s.t, x, y - 1);
      x += ctx.measureText(s.t).width + size * 0.33;
    } else if (s.k === "i" || s.k === "bar") {
      ctx.font = `italic ${size}px ${SERIF}`;
      ctx.fillText(s.t, x, y);
      const w = ctx.measureText(s.t).width;
      if (s.k === "bar") {
        ctx.save();
        ctx.strokeStyle = "#000";
        ctx.lineWidth = 2;
        ctx.beginPath();
        ctx.moveTo(x + w * 0.3, y - size * 0.6);
        ctx.lineTo(x + w * 0.95, y - size * 0.6);
        ctx.stroke();
        ctx.restore();
      }
      x += w + size * 0.04;
    } else {
      const ss = Math.round(size * 0.7);
      ctx.font = `${ss}px ${SERIF}`;
      ctx.fillText(s.t, x, y + size * 0.2);
      x += ctx.measureText(s.t).width + size * 0.02;
    }
  }
  return x;
}

const decorPlugin = {
  id: "decor",
  afterDraw(chart: any) {
    const ctx: CanvasRenderingContext2D = chart.ctx;
    const { left, right, top, bottom } = chart.chartArea;
    const xs = chart.scales.x;
    const ys = chart.scales.y;
    ctx.save();
    ctx.fillStyle = "#000";
    ctx.strokeStyle = "#000";

    ctx.lineWidth = 2;
    ctx.beginPath();
    for (let v = X_MIN; v <= X_MAX; v += 5) {
      const px = xs.getPixelForValue(v);
      const len = v % 20 === 0 ? 17 : 9;
      ctx.moveTo(px, bottom);
      ctx.lineTo(px, bottom - len);
      ctx.moveTo(px, top);
      ctx.lineTo(px, top + len);
    }
    for (let e = -4; e <= 0; e++) {
      for (let m = 1; m <= 9; m++) {
        if (e === 0 && m > 1) break;
        const py = ys.getPixelForValue(m * Math.pow(10, e));
        const len = m === 1 ? 17 : 9;
        ctx.moveTo(left, py);
        ctx.lineTo(left + len, py);
        ctx.moveTo(right, py);
        ctx.lineTo(right - len, py);
      }
    }
    ctx.stroke();

    ctx.lineWidth = 3;
    ctx.strokeRect(left, top, right - left, bottom - top);

    ctx.font = `39px ${SANS}`;
    ctx.textAlign = "center";
    ctx.textBaseline = "alphabetic";
    for (const v of X_TICK_LABELS) {
      ctx.fillText(String(v), xs.getPixelForValue(v), 1008);
    }

    for (const e of Y_TICK_EXPONENTS) {
      const py = ys.getPixelForValue(Math.pow(10, e));
      const sup = String(e);
      ctx.font = `27px ${SANS}`;
      const ws = ctx.measureText(sup).width;
      ctx.font = `39px ${SANS}`;
      const wb = ctx.measureText("10").width;
      const rightEdge = 79;
      ctx.textAlign = "left";
      ctx.fillText("10", rightEdge - ws - wb - 1, py + 15.5);
      ctx.font = `27px ${SANS}`;
      ctx.fillText(sup, rightEdge - ws, py - 1);
    }

    ctx.font = `47px ${SERIF}`;
    ctx.textAlign = "center";
    ctx.fillText("Model 1, Scenario 1", 640, 45);

    ctx.textAlign = "left";
    let x = 592;
    ctx.font = `italic 46px ${SERIF}`;
    ctx.fillText("θ", x, 1073);
    x += ctx.measureText("θ").width + 1;
    ctx.font = `32px ${SERIF}`;
    ctx.fillText("24", x, 1081);
    x += ctx.measureText("24").width + 9;
    ctx.font = `46px ${SERIF}`;
    ctx.fillText("(", x, 1073);
    x += ctx.measureText("(").width + 1;
    ctx.font = `38px ${SERIF}`;
    ctx.fillText("°", x, 1070);
    x += ctx.measureText("°").width + 1;
    ctx.font = `46px ${SERIF}`;
    ctx.fillText(")", x, 1073);

    ctx.fillStyle = "#fff";
    ctx.fillRect(262, 92, 784, 145);
    ctx.strokeStyle = "#333";
    ctx.lineWidth = 1.6;
    ctx.strokeRect(262, 92, 784, 145);
    const pos = [
      { dx: 305, tx: 327, y: 131, by: 142 },
      { dx: 688, tx: 709, y: 131, by: 142 },
      { dx: 305, tx: 327, y: 197, by: 207 },
      { dx: 688, tx: 709, y: 197, by: 207 },
    ];
    LEGEND_ITEMS.forEach((it, i) => {
      const p = pos[i];
      ctx.fillStyle = it.color;
      ctx.beginPath();
      ctx.arc(p.dx, p.y, 9.5, 0, Math.PI * 2);
      ctx.fill();
      ctx.fillStyle = "#000";
      drawSegs(ctx, it.segs, p.tx, p.by, 47);
    });

    ctx.restore();
  },
};

export default function App() {
  const ref = useRef<HTMLCanvasElement | null>(null);
  useEffect(() => {
    if (!ref.current) return;
    const pointDs = (label: string, data: { x: number; y: number }[], color: string) => ({
      type: "scatter" as const,
      label,
      data,
      pointRadius: 3,
      pointHoverRadius: 0,
      pointBorderWidth: 0,
      pointBackgroundColor: color,
      backgroundColor: color,
      borderColor: color,
      showLine: false,
      clip: 0,
    });
    const chart = new Chart(ref.current, {
      type: "scatter",
      data: {
        datasets: [
          pointDs("Br(Z' → H2H3)", toXY(H2H3_CAP, H2H3_CAP2, H2H3_ARC_L, H2H3_ARC_R, H2H3_SCATTER), COLORS.h23),
          pointDs("Br(Z' → H2H4)", toXY(H2H4_BAND_L, H2H4_BAND_R, H2H4_SCATTER), COLORS.h24),
          pointDs("Br(Z' → H3H4)", toXY(H3H4_BAND_L, H3H4_BAND_R, H3H4_CLUSTER, H3H4_SCATTER), COLORS.h34),
          {
            type: "line" as const,
            label: "Br(Z' → qq̄)",
            data: QQ_THETA.map((t, i) => ({ x: t, y: QQ_BR[i] })),
            borderColor: COLORS.qq,
            backgroundColor: COLORS.qq,
            borderWidth: 3.2,
            pointRadius: 0,
            fill: false,
            clip: 0,
          } as any,
        ],
      },
      options: {
        animation: false,
        responsive: false,
        maintainAspectRatio: false,
        events: [],
        layout: { padding: { left: 98, right: 43, top: 72, bottom: 150 } },
        plugins: { legend: { display: false }, title: { display: false }, tooltip: { enabled: false } },
        scales: {
          x: {
            type: "linear",
            min: X_MIN,
            max: X_MAX,
            ticks: { display: false },
            grid: { display: false },
            border: { display: false },
            afterFit: (s: any) => { s.height = 0; },
          },
          y: {
            type: "logarithmic",
            min: 1e-4,
            max: 1,
            ticks: { display: false },
            grid: { display: false },
            border: { display: false },
            afterFit: (s: any) => { s.width = 0; },
          },
        },
      } as any,
      plugins: [decorPlugin],
    });
    return () => chart.destroy();
  }, []);
  return (
    <div style={{ position: "absolute", left: 0, top: 0, width: 1240, height: 1105, background: "#fff" }}>
      <canvas ref={ref} width={1240} height={1105} style={{ display: "block", width: 1240, height: 1105 }} />
    </div>
  );
}
